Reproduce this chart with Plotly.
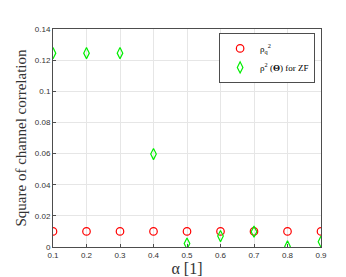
import plotly.graph_objects as go

alpha = [0.1, 0.2, 0.3, 0.4, 0.5, 0.6, 0.7, 0.8, 0.9]
rho_q2 = [0.01, 0.01, 0.01, 0.01, 0.01, 0.01, 0.01, 0.01, 0.01]
rho_zf = [0.1245, 0.1245, 0.1245, 0.0597, 0.0022, 0.0070, 0.0098, 0.0004, 0.0034]
yticks = [0, 0.02, 0.04, 0.06, 0.08, 0.1, 0.12, 0.14]
ytick_text = ["0", "0.02", "0.04", "0.06", "0.08", "0.1", "0.12", "0.14"]

fig = go.Figure()
fig.add_trace(go.Scatter(x=alpha, y=rho_q2, mode="markers",
                         name="ρ<sub>q</sub><sup>2</sup>",
                         marker=dict(symbol="circle-open", size=7.5, color="#ff0000", line=dict(width=1.2))))
fig.add_trace(go.Scatter(x=alpha, y=rho_zf, mode="markers",
                         name="ρ<sup>2</sup> (<b>Θ</b>) for ZF",
                         marker=dict(symbol="diamond-tall-open", size=8, color="#00ee00", line=dict(width=1.2))))

axis_common = dict(showline=True, linecolor="#4d4d4d", linewidth=1, mirror=True,
                   ticks="inside", ticklen=3, tickcolor="#4d4d4d",
                   showgrid=True, gridcolor="#e6e6e6", gridwidth=1, zeroline=False,
                   tickfont=dict(family="Liberation Sans", size=8, color="#333333"))

fig.update_xaxes(range=[0.1, 0.9], tickvals=alpha, ticktext=[str(a) for a in alpha],
                 title=dict(text="α [1]", font=dict(family="Liberation Serif", size=16, color="#333333"), standoff=2),
                 **axis_common)
fig.update_yaxes(range=[0, 0.14], tickvals=yticks, ticktext=ytick_text,
                 title=dict(text="Square of channel correlation", font=dict(family="Liberation Serif", size=15, color="#333333"), standoff=4),
                 **axis_common)

fig.update_layout(width=346, height=277, margin=dict(l=45, r=33, t=21, b=35),
                  plot_bgcolor="white", paper_bgcolor="white",
                  legend=dict(x=0.978, y=0.982, xanchor="right", yanchor="top",
                              bgcolor="white", bordercolor="#4d4d4d", borderwidth=1,
                              font=dict(family="Liberation Serif", size=9, color="black"),
                              itemwidth=30, tracegroupgap=0))

fig.write_html("out.html")
